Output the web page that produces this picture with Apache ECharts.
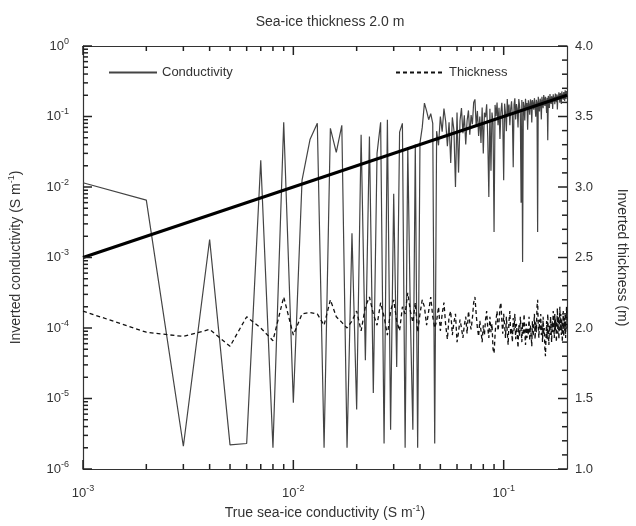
<!DOCTYPE html>
<html>
<head>
<meta charset="utf-8">
<script src="https://cdn.jsdelivr.net/npm/echarts@6/dist/echarts.min.js"></script>
<style>
  html, body { margin: 0; padding: 0; background: #fff; }
  #chart { width: 636px; height: 526px; }
</style>
</head>
<body>
<div id="chart"></div>
<script>
// true sea-ice conductivity, in mS/m (converted to S/m below)
const trueCondMilli = [
  1,2,3,4,5,6,7,8,9,10,11,12,13,14,15,16,17,18,19,20,
  21,22,23,24,25,26,27,28,29,30,31,32,33,34,35,36,37,38,39,40,
  41,42,43,44,45,46,47,48,49,50,51,52,53,54,55,56,57,58,59,60,
  61,62,63,64,65,66,67,68,69,70,71,72,73,74,75,76,77,78,79,80,
  81,82,83,84,85,86,87,88,89,90,91,92,93,94,95,96,97,98,99,100,
  101,102,103,104,105,106,107,108,109,110,111,112,113,114,115,116,117,118,119,120,
  121,122,123,124,125,126,127,128,129,130,131,132,133,134,135,136,137,138,139,140,
  141,142,143,144,145,146,147,148,149,150,151,152,153,154,155,156,157,158,159,160,
  161,162,163,164,165,166,167,168,169,170,171,172,173,174,175,176,177,178,179,180,
  181,182,183,184,185,186,187,188,189,190,191,192,193,194,195,196,197,198,199,200
];

// inverted conductivity (S/m)
const invConductivity = [
  0.0115, 0.0065, 2.1e-6, 0.0018, 2.2e-6, 2.3e-6, 0.024, 2.0e-6, 0.083, 8.7e-6,
  0.0125, 0.047, 0.08, 2.0e-6, 0.068, 0.031, 0.075, 2.0e-6, 0.0022, 7e-6,
  0.055, 3.5e-5, 0.052, 1.2e-5, 0.03, 0.083, 2.3e-6, 0.09, 3.6e-6, 0.008,
  2.8e-5, 0.06, 0.08, 2e-6, 0.037, 1.5e-4, 3.6e-6, 0.04, 2e-6, 0.042,
  0.07, 0.155, 0.12, 0.09, 0.11, 0.08, 2.3e-6, 0.062, 0.039, 0.100,
  0.061, 0.130, 0.085, 0.038, 0.083, 0.022, 0.097, 0.064, 0.010, 0.114,
  0.016, 0.087, 0.132, 0.058, 0.104, 0.040, 0.087, 0.122, 0.055, 0.105,
  0.078, 0.158, 0.175, 0.074, 0.120, 0.053, 0.100, 0.042, 0.134, 0.030,
  0.113, 0.098, 0.149, 0.050, 0.0072, 0.129, 0.017, 0.114, 0.080, 0.0023,
  0.146, 0.101, 0.158, 0.075, 0.133, 0.048, 0.116, 0.157, 0.089, 0.0125,
  0.152, 0.112, 0.062, 0.177, 0.105, 0.148, 0.075, 0.130, 0.164, 0.099,
  0.019, 0.146, 0.181, 0.091, 0.150, 0.128, 0.070, 0.177, 0.143, 0.108,
  0.006, 0.171, 0.00086, 0.161, 0.138, 0.088, 0.178, 0.128, 0.155, 0.065,
  0.170, 0.145, 0.106, 0.174, 0.162, 0.082, 0.171, 0.152, 0.125, 0.182,
  0.141, 0.099, 0.172, 0.158, 0.0023, 0.190, 0.147, 0.118, 0.179, 0.165,
  0.091, 0.190, 0.153, 0.131, 0.202, 0.172, 0.141, 0.190, 0.159, 0.112,
  0.185, 0.046, 0.196, 0.172, 0.132, 0.208, 0.167, 0.151, 0.194, 0.179,
  0.128, 0.206, 0.164, 0.191, 0.149, 0.211, 0.177, 0.160, 0.206, 0.126,
  0.199, 0.173, 0.220, 0.184, 0.157, 0.214, 0.196, 0.150, 0.227, 0.181,
  0.210, 0.173, 0.222, 0.194, 0.166, 0.235, 0.207, 0.178, 0.229, 0.200
];

// inverted thickness (m)
const invThickness = [
  2.12, 1.97, 1.94, 1.99, 1.87, 2.08, 2.00, 1.91, 2.22, 1.95,
  2.10, 2.11, 2.10, 2.02, 2.20, 2.08, 2.04, 2.00, 2.05, 2.12,
  1.98, 2.15, 2.22, 2.10, 2.02, 2.18, 2.08, 1.95, 2.12, 2.20,
  2.05, 1.98, 2.15, 2.10, 2.25, 2.12, 2.04, 2.18, 1.97, 2.10,
  2.20, 2.15, 2.02, 2.12, 2.22, 2.08, 2.00, 2.05, 2.15, 1.98,
  2.10, 2.18, 2.02, 1.92, 2.08, 2.12, 1.95, 2.04, 2.10, 1.90,
  1.97, 2.06, 2.00, 1.93, 2.02, 2.08, 1.96, 2.12, 2.04, 1.99,
  2.07, 2.18, 2.22, 2.10, 2.00, 1.94, 2.05, 1.98, 1.90, 2.02,
  1.95, 2.06, 2.12, 2.00, 1.93, 2.08, 1.97, 2.03, 1.85, 1.82,
  1.95, 2.06, 2.12, 1.98, 2.04, 2.15, 2.18, 2.05, 1.96, 2.10,
  2.02, 1.93, 2.08, 1.97, 1.88, 2.05, 2.12, 1.95, 2.00, 1.90,
  2.07, 1.98, 2.10, 1.92, 2.03, 1.96, 1.86, 2.02, 1.94, 2.08,
  1.99, 1.90, 2.04, 1.95, 2.10, 1.97, 1.88, 2.03, 1.93, 2.00,
  1.95, 2.08, 1.91, 2.02, 1.96, 1.87, 2.05, 1.94, 2.00, 2.10,
  1.92, 2.04, 1.97, 2.15, 2.20, 2.02, 1.93, 2.06, 1.98, 2.10,
  1.95, 2.03, 1.90, 2.08, 1.96, 2.00, 1.85, 1.80, 1.94, 2.05,
  1.92, 2.10, 1.98, 1.88, 2.02, 1.95, 2.08, 2.00, 1.90, 2.05,
  1.97, 2.12, 2.03, 1.93, 2.10, 1.98, 2.06, 1.90, 2.02, 2.14,
  1.96, 2.08, 1.92, 2.04, 2.15, 1.98, 2.10, 1.95, 2.06, 1.90,
  2.02, 2.12, 1.94, 2.07, 1.98, 2.10, 1.93, 2.05, 2.15, 2.00
];

// 1:1 reference line
const oneToOneX = [0.001, 0.2];
const oneToOneY = [0.001, 0.2];

// tick positions
const xMajorTicks = [0.001, 0.01, 0.1];
const yMajorTicks = [1e-6, 1e-5, 1e-4, 1e-3, 1e-2, 1e-1, 1];
const thickMajorTicks = [1.0, 1.5, 2.0, 2.5, 3.0, 3.5, 4.0];
const xMinorTicks = [];
[0.001, 0.01, 0.1].forEach(d => { for (let m = 2; m <= 9; m++) if (m * d < 0.2) xMinorTicks.push(m * d); });
const yMinorTicks = [];
[1e-6, 1e-5, 1e-4, 1e-3, 1e-2, 1e-1].forEach(d => { for (let m = 2; m <= 9; m++) yMinorTicks.push(m * d); });
const thickMinorTicks = [];
for (let i = 10; i <= 40; i++) if (i % 5 !== 0) thickMinorTicks.push(i / 10);

const trueCond = trueCondMilli.map(v => v / 1000);
const condData = trueCond.map((x, i) => [x, invConductivity[i]]);
const thickData = trueCond.map((x, i) => [x, invThickness[i]]);
const lineData = oneToOneX.map((x, i) => [x, oneToOneY[i]]);

const FONT = '"Liberation Sans", Arial, sans-serif';
const INK = '#333';
const TICK = '#222';
const MAJOR = 9, MINOR = 5;

const supRich = {
  b: { fontSize: 13, color: INK, fontFamily: FONT },
  s: { fontSize: 9, color: INK, fontFamily: FONT, padding: [0, 0, 9, 0] }
};
function powLabel(v) {
  const e = Math.round(Math.log10(v));
  if (Math.abs(Math.log10(v) - e) > 1e-6) return '';
  return '{b|10}{s|' + e + '}';
}

function tickLine(x1, y1, x2, y2) {
  return { type: 'line', shape: { x1: x1, y1: y1, x2: x2, y2: y2 }, style: { stroke: TICK, lineWidth: 1.5 } };
}

// x ticks on bottom and top edges
function renderXTick(params, api) {
  const len = api.value(1);
  const b = api.coord([api.value(0), 1e-6]);
  const t = api.coord([api.value(0), 1]);
  return { type: 'group', children: [tickLine(b[0], b[1], b[0], b[1] - len), tickLine(t[0], t[1], t[0], t[1] + len)] };
}
// left log axis ticks
function renderYTick(params, api) {
  const len = api.value(1);
  const p = api.coord([0.001, api.value(0)]);
  return tickLine(p[0], p[1], p[0] + len, p[1]);
}
// right thickness axis ticks
function renderTTick(params, api) {
  const len = api.value(1);
  const p = api.coord([0.2, api.value(0)]);
  return tickLine(p[0], p[1], p[0] - len, p[1]);
}

const xTickData = xMajorTicks.map(v => [v, MAJOR]).concat(xMinorTicks.map(v => [v, MINOR]));
const yTickData = yMajorTicks.map(v => [v, MAJOR]).concat(yMinorTicks.map(v => [v, MINOR]));
const tTickData = thickMajorTicks.map(v => [v, MAJOR]).concat(thickMinorTicks.map(v => [v, MINOR]));

var myChart = echarts.init(document.getElementById('chart'));

myChart.setOption({
  animation: false,
  textStyle: { fontFamily: FONT, color: INK },
  title: {
    text: 'Sea-ice thickness 2.0 m',
    left: 325,
    textAlign: 'center',
    top: 10,
    textStyle: { fontSize: 14, fontWeight: 'normal', color: INK, fontFamily: FONT }
  },
  grid: { left: 83, right: 69, top: 46, bottom: 57, containLabel: false, outerBoundsMode: 'none' },
  legend: [
    {
      data: ['Conductivity'],
      left: 103, top: 61,
      itemWidth: 48, itemHeight: 14, itemGap: 5,
      itemStyle: { opacity: 0 },
      textStyle: { fontSize: 13, color: INK, fontFamily: FONT }
    },
    {
      data: ['Thickness'],
      left: 390, top: 61,
      itemWidth: 48, itemHeight: 14, itemGap: 5,
      itemStyle: { opacity: 0 },
      textStyle: { fontSize: 13, color: INK, fontFamily: FONT }
    }
  ],
  xAxis: [
    {
      type: 'log', logBase: 10, min: 0.001, max: 0.2,
      name: 'True sea-ice conductivity (S m{s|-1})',
      nameLocation: 'middle', nameGap: 35,
      nameTextStyle: { fontSize: 14, color: INK, fontFamily: FONT, rich: { s: { fontSize: 9, color: INK, padding: [0, 0, 9, 0] } } },
      axisLine: { show: true, lineStyle: { color: INK, width: 1.2 } },
      axisTick: { show: false },
      axisLabel: { margin: 15, formatter: powLabel, rich: supRich, showMaxLabel: false },
      splitLine: { show: false }
    },
    {
      type: 'log', logBase: 10, min: 0.001, max: 0.2, position: 'top',
      axisLine: { show: true, lineStyle: { color: INK, width: 1.2 } },
      axisTick: { show: false },
      axisLabel: { show: false },
      splitLine: { show: false }
    }
  ],
  yAxis: [
    {
      type: 'log', logBase: 10, min: 1e-6, max: 1, position: 'left',
      name: 'Inverted conductivity (S m{s|-1})',
      nameLocation: 'middle', nameGap: 58, nameRotate: 90,
      nameTextStyle: { fontSize: 14, color: INK, fontFamily: FONT, rich: { s: { fontSize: 9, color: INK, padding: [0, 0, 9, 0] } } },
      axisLine: { show: true, lineStyle: { color: INK, width: 1.2 } },
      axisTick: { show: false },
      axisLabel: { margin: 14, formatter: powLabel, rich: supRich },
      splitLine: { show: false }
    },
    {
      type: 'value', min: 1, max: 4, interval: 0.5, position: 'right',
      name: 'Inverted thickness (m)',
      nameLocation: 'middle', nameGap: 48, nameRotate: -90,
      nameTextStyle: { fontSize: 14, color: INK, fontFamily: FONT },
      axisLine: { show: true, lineStyle: { color: INK, width: 1.2 } },
      axisTick: { show: false },
      axisLabel: { margin: 8, fontSize: 13, color: INK, formatter: v => v.toFixed(1) },
      splitLine: { show: false }
    }
  ],
  series: [
    {
      name: 'Conductivity',
      type: 'line',
      xAxisIndex: 0, yAxisIndex: 0,
      data: condData,
      symbol: 'none',
      color: '#444',
      lineStyle: { color: '#444', width: 1.2 }
    },
    {
      name: 'Thickness',
      type: 'line',
      xAxisIndex: 0, yAxisIndex: 1,
      data: thickData,
      symbol: 'none',
      color: '#111',
      lineStyle: { color: '#111', width: 1.3, type: [4, 3] }
    },
    {
      name: '1:1',
      type: 'line',
      xAxisIndex: 0, yAxisIndex: 0,
      data: lineData,
      symbol: 'none',
      color: '#000',
      lineStyle: { color: '#000', width: 3 },
      z: 5
    },
    { type: 'custom', xAxisIndex: 0, yAxisIndex: 0, data: xTickData, renderItem: renderXTick, silent: true, clip: false, z: 10 },
    { type: 'custom', xAxisIndex: 0, yAxisIndex: 0, data: yTickData, renderItem: renderYTick, silent: true, clip: false, z: 10 },
    { type: 'custom', xAxisIndex: 0, yAxisIndex: 1, data: tTickData, renderItem: renderTTick, silent: true, clip: false, z: 10 }
  ]
});
</script>
</body>
</html>
